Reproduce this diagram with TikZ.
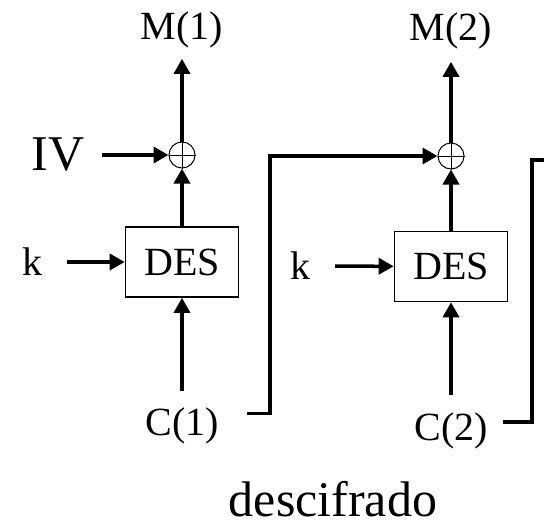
\documentclass[tikz,border=0pt]{standalone}
\usepackage{fontspec}
\setmainfont{Liberation Serif}
\usepackage{tikz}
\usetikzlibrary{arrows.meta}

\begin{document}
\begin{tikzpicture}[x=1pt, y=-1pt,
    every node/.style={inner sep=0pt, font=\fontsize{40}{40}\selectfont},
    big/.style={font=\fontsize{50}{50}\selectfont},
    desbox/.style={draw, line width=1.6pt, minimum width=113pt, minimum height=70pt},
    xor/.style={draw, circle, line width=1pt, minimum size=26pt},
    arr/.style={line width=3.5pt, -{Triangle[length=15pt,width=16pt]}},
    wire/.style={line width=3.5pt}]
    \useasboundingbox (0,0) rectangle (544,528);

    % first block
    \node (m1) at (182,29.5) {M(1)};
    \node[xor] (x1) at (182,155) {};
    \node[desbox] (des1) at (182,262) {DES};
    \node[big] (iv) at (58,155) {IV};
    \node (k1) at (32,262) {k};
    \node (c1) at (182,425.5) {C(1)};

    % second block
    \node (m2) at (451,30.5) {M(2)};
    \node[xor] (x2) at (451,156) {};
    \node[desbox] (des2) at (451,266.5) {DES};
    \node (k2) at (300,266) {k};
    \node (c2) at (451,430.5) {C(2)};
    \coordinate (out2) at (546,160);

    \node[big] (title) at (333,499) {descifrado};

    % xor marks
    \draw[line width=1pt] (x1.north) -- (x1.south) (x1.west) -- (x1.east);
    \draw[line width=1pt] (x2.north) -- (x2.south) (x2.west) -- (x2.east);

    % arrows
    \draw[arr, shorten >=11pt] (x1) -- (m1);
    \draw[arr] (des1) -- (x1);
    \draw[arr, shorten <=17pt] (iv) -- (x1);
    \draw[arr, shorten <=25pt] (k1) -- (des1);
    \draw[arr, shorten <=16pt] (c1) -- (des1);

    \draw[arr, shorten >=13pt] (x2) -- (m2);
    \draw[arr] (des2) -- (x2);
    \draw[arr, shorten <=25pt] (k2) -- (des2);
    \draw[arr, shorten <=17pt] (c2) -- (des2);

    % chaining
    \draw[arr] ([xshift=28pt,yshift=12pt]c1.east) -- ++(23,0) |- (x2);
    \draw[wire] ([xshift=15pt,yshift=8.5pt]c2.east) -- ++(29,0) |- (out2);
\end{tikzpicture}
\end{document}
